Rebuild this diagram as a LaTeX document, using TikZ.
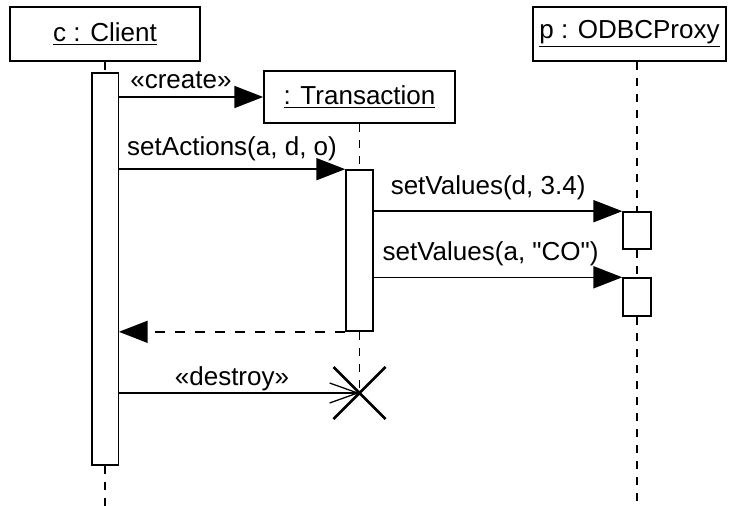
\documentclass[tikz,border=0pt]{standalone}
\usepackage{fontspec}
\setmainfont{Liberation Sans}
\usepackage{tikz}
\usetikzlibrary{arrows.meta}
\usetikzlibrary{calc}
\tikzstyle{object} = [draw, line width=1pt,
	minimum width=4.75cm,
	minimum height=1.35cm,
	inner sep=0pt,
	font=\fontsize{18.5}{22}\selectfont]
\tikzstyle{act} = [draw, fill=white, line width=1pt,
	minimum width=0.66cm,
	inner sep=0pt]
\tikzstyle{msg} =[-{Triangle[length=7.2mm, width=5.5mm]}, line width=1.1pt]
\tikzstyle{reply} =[msg, dash pattern=on 2.5mm off 2.5mm]
\tikzstyle{destroy} =[-{Straight Barb[length=7mm, width=5mm]}, line width=0.9pt]
\tikzstyle{life} =[line width=0.9pt, dash pattern=on 2mm off 2mm]
\tikzstyle{lbl} =[font=\fontsize{18.5}{22}\selectfont, inner sep=1pt]
\newcommand{\drawkill}[2]{\coordinate (#1) at #2;
	\draw[line width=2pt] ($ (#1) + (-26,-26) $) -- ($ (#1) + (26,26) $)
	($ (#1) + (-26,26) $) -- ($ (#1) + (26,-26) $)}

\begin{document}
\begin{tikzpicture}[x=0.025cm, y=-0.025cm]
			\useasboundingbox (0,0) rectangle (732,506);
			\node (client) [object] at (105,34) {\underline{c : Client}};
			\node (tx) [object, minimum width=4.78cm, minimum height=1.3cm] at (359.5,97) {\underline{: Transaction}};
			\node (proxy) [object, minimum width=4.83cm] at (629.5,34) {\underline{p : ODBCProxy}};
			
			\node (cact) [act, minimum height=9.8cm] at (105,269) {};
			\node (tact) [act, minimum width=0.68cm, minimum height=4.03cm] at (359.5,250.5) {};
			\node (pact1) [act, minimum width=0.7cm, minimum height=0.93cm] at (637,230.5) {};
			\node (pact2) [act, minimum width=0.7cm, minimum height=0.95cm] at (637,297) {};
			\coordinate (cend) at (105,506);
			\coordinate (pend) at (637,506);
			\drawkill{kill}{(359.5,393)};
			
			\draw [life] (client.south) -- (cact.north);
			\draw [life] (cact.south) -- (cend);
			\draw [life] (tx.south) -- (tact.north);
			\draw [life] (tact.south) -- (kill);
			\draw [life] (pact1.north |- proxy.south) -- (pact1.north);
			\draw [life] (pact1.south) -- (pact2.north);
			\draw [life] (pact2.south) -- (pend);
			
			\draw [msg] (cact.east |- tx.west) -- (tx.west) node [lbl, pos=0.43, above=4pt] {«create»};
			\draw [msg] (cact.east |- tact.north) -- (tact.north west) node [lbl, midway, above=4pt] {setActions(a, d, o)};
			\draw [msg] (tact.east |- pact1.north) -- (pact1.north west) node [lbl, pos=0.46, above=6.5pt] {setValues(d, 3.4)};
			\draw [msg] (tact.east |- pact2.north) -- (pact2.north west) node [lbl, pos=0.47, above=6.5pt] {setValues(a, \textquotedbl CO\textquotedbl)};
			\draw [reply] (tact.south west) -- (cact.east |- tact.south);
			\draw [destroy] (cact.east |- kill) -- (kill) node [lbl, pos=0.47, above=0pt] {«destroy»};
		\end{tikzpicture}
\end{document}
